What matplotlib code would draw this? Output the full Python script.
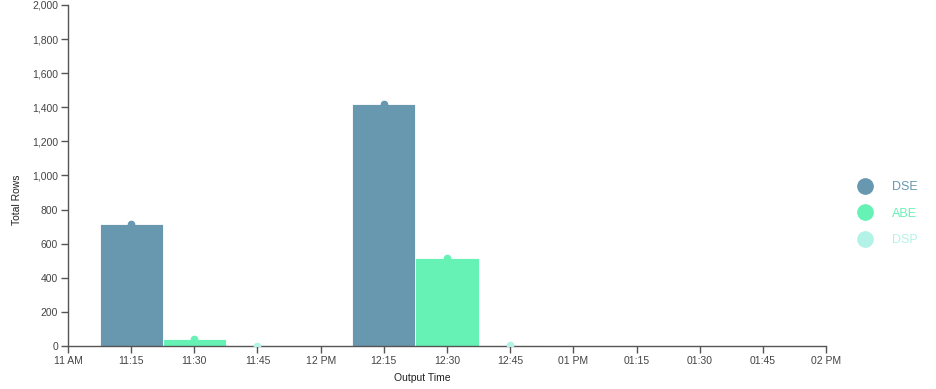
import matplotlib.pyplot as plt
from matplotlib.lines import Line2D

# ======================
# DATA
# ======================

tick_minutes = [0, 15, 30, 45, 60, 75, 90, 105, 120, 135, 150, 165, 180]
tick_labels = ["11 AM", "11:15", "11:30", "11:45", "12 PM", "12:15", "12:30",
               "12:45", "01 PM", "01:15", "01:30", "01:45", "02 PM"]

series_names = ["DSE", "ABE", "DSP"]
series_colors = ["#6798b0", "#66f2b5", "#b3f2e6"]

# minutes after 11 AM, total rows
dse_x = [15, 75]
dse_y = [715, 1420]
abe_x = [30, 90]
abe_y = [40, 518]
dsp_x = [45, 105]
dsp_y = [3, 5]

series_x = [dse_x, abe_x, dsp_x]
series_y = [dse_y, abe_y, dsp_y]

# ======================
# PLOT
# ======================

plt.rcParams["font.family"] = ["Liberation Sans", "DejaVu Sans"]

fig = plt.figure(figsize=(9.36, 3.89), dpi=100)
ax = fig.add_axes([0.0726, 0.1105, 0.8099, 0.8767])

for xs, ys, c in zip(series_x, series_y, series_colors):
    ax.bar(xs, ys, width=15, color=c, edgecolor="white", linewidth=0.6, zorder=2)
    ax.plot(xs, ys, linestyle="none", marker="o", markersize=4.5,
            color=c, zorder=3)

ax.set_xlim(0, 180)
ax.set_ylim(0, 2000)
ax.set_xticks(tick_minutes)
ax.set_xticklabels(tick_labels)
ax.set_yticks(range(0, 2001, 200))
ax.set_yticklabels([f"{v:,}" for v in range(0, 2001, 200)])

for s in ["top", "right"]:
    ax.spines[s].set_visible(False)
for s in ["left", "bottom"]:
    ax.spines[s].set_color("#555555")
    ax.spines[s].set_linewidth(1.0)

ax.tick_params(axis="both", labelsize=7.5, colors="#555555", length=5,
               width=1, labelcolor="#444444", pad=2)

ax.set_xlabel("Output Time", fontsize=7.5, color="#222222")
ax.set_ylabel("Total Rows", fontsize=7.5, color="#222222")
ax.xaxis.set_label_coords(0.468, -0.078)
ax.yaxis.set_label_coords(-0.061, 0.43)

handles = [Line2D([], [], linestyle="none", marker="o", markersize=11,
                  color=c) for c in series_colors]
ax.legend(handles, series_names, loc="center left",
          bbox_to_anchor=(1.02, 0.388), frameon=False, fontsize=9,
          labelcolor=series_colors, handletextpad=1.2, labelspacing=1.15)

fig.savefig("out.png", dpi=100)
